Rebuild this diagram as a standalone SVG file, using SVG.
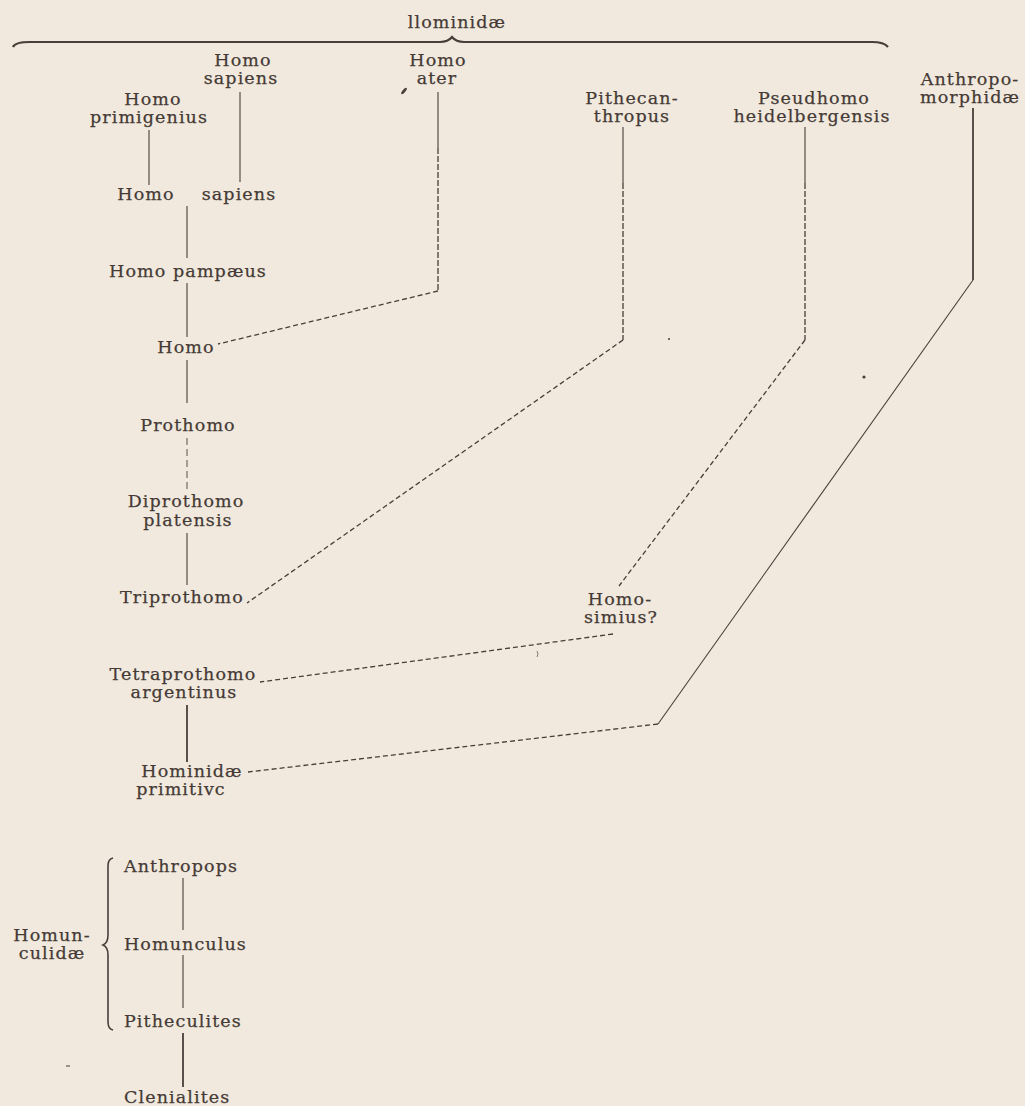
<svg xmlns="http://www.w3.org/2000/svg" width="1025" height="1106" viewBox="0 0 1025 1106">
<style>
text{font-family:"DejaVu Serif","Liberation Serif",serif;font-size:17.5px;fill:#453a36;stroke:#453a36;stroke-width:0.25;letter-spacing:1.1px}
.m{text-anchor:middle}
.s{fill:none;stroke:#4a3e3a;stroke-width:1.1}
.b{fill:none;stroke:#4a3e3a;stroke-width:1.8}
.d{fill:none;stroke:#4a3e3a;stroke-width:1.3;stroke-dasharray:5 3}
.dv{fill:none;stroke:#4a3e3a;stroke-width:1.3;stroke-dasharray:6 2}
.dd{fill:none;stroke:#4a3e3a;stroke-width:0.9;stroke-dasharray:7 4}
</style>
<rect width="1025" height="1106" fill="#f1e9dd"/>
<g id="hominidae-brace">
<text class="m" x="457" y="28">llominidæ</text>
<path d="M13,47 Q15,42 30,42 L440,42 Q448,42 452,37 Q456,42 464,42 L872,42 Q884,42 888,47" fill="none" stroke="#4a3e3a" stroke-width="2.2"/>
</g>
<g id="connectors">
<path class="s" d="M240,92 V182"/>
<path class="s" d="M149,130 V185"/>
<path class="s" d="M187,206 V258"/>
<path class="s" d="M187,283 V337"/>
<path class="s" d="M187,360 V403"/>
<path class="dd" d="M187,438 V490"/>
<path class="s" d="M187,533 V585"/>
<path class="b" d="M187,705 V762"/>
<path class="s" d="M438,92 V148"/>
<path class="dv" d="M438,148 V291"/>
<path class="d" d="M438,291 L218,344"/>
<path class="s" d="M623,127 V183"/>
<path class="dv" d="M623,183 V340"/>
<path class="d" d="M623,340 L247,603"/>
<path class="s" d="M805,127 V183"/>
<path class="dv" d="M805,183 V340"/>
<path class="d" d="M805,340 L619,586"/>
<path class="d" d="M613,634 L260,682"/>
<path class="b" d="M973,108 V280"/>
<path class="s" d="M973,280 L658,724"/>
<path class="d" d="M658,724 L248,772"/>
<path class="s" d="M183,878 V930"/>
<path class="s" d="M183,955 V1008"/>
<path class="b" d="M183,1033 V1087"/>
</g>
<g id="homo-sapiens-top"><text class="m" x="243" y="66">Homo</text><text class="m" x="241" y="84">sapiens</text></g>
<g id="homo-ater"><text class="m" x="438" y="66">Homo</text><text class="m" x="437" y="84">ater</text></g>
<g id="homo-primigenius"><text class="m" x="153" y="105">Homo</text><text class="m" x="149" y="123">primigenius</text></g>
<g id="pithecanthropus"><text class="m" x="632" y="104">Pithecan-</text><text class="m" x="632" y="122">thropus</text></g>
<g id="pseudhomo"><text class="m" x="814" y="104">Pseudhomo</text><text class="m" x="812" y="122">heidelbergensis</text></g>
<g id="anthropomorphidae"><text class="m" x="970" y="85">Anthropo-</text><text class="m" x="970" y="103">morphidæ</text></g>
<g id="homo-sapiens"><text class="m" x="146" y="200">Homo</text><text class="m" x="239" y="200">sapiens</text></g>
<g id="homo-pampaeus"><text class="m" x="188" y="277">Homo pampæus</text></g>
<g id="homo"><text class="m" x="186" y="353">Homo</text></g>
<g id="prothomo"><text class="m" x="188" y="431">Prothomo</text></g>
<g id="diprothomo"><text class="m" x="186" y="507">Diprothomo</text><text class="m" x="188" y="526">platensis</text></g>
<g id="triprothomo"><text class="m" x="182" y="603">Triprothomo</text></g>
<g id="homosimius"><text class="m" x="620" y="605">Homo-</text><text class="m" x="621" y="623">simius?</text></g>
<g id="tetraprothomo"><text class="m" x="183" y="680">Tetraprothomo</text><text class="m" x="184" y="698">argentinus</text></g>
<g id="hominidae-primitive"><text class="m" x="192" y="777">Hominidæ</text><text class="m" x="181" y="795">primitivc</text></g>
<g id="homunculidae">
<text class="m" x="52" y="941">Homun-</text><text class="m" x="52" y="959">culidæ</text>
<path d="M113,858 Q108,859 108,866 L108,935 Q108,943 103,945 Q108,947 108,955 L108,1022 Q108,1029 113,1030" fill="none" stroke="#4a3e3a" stroke-width="1.6"/>
</g>
<g id="anthropops"><text x="124" y="872">Anthropops</text></g>
<g id="homunculus"><text x="124" y="950">Homunculus</text></g>
<g id="pitheculites"><text x="124" y="1027">Pitheculites</text></g>
<g id="clenialites"><text x="124" y="1103">Clenialites</text></g>
<g id="marks" fill="#4a3e3a">
<ellipse cx="404" cy="91" rx="1.4" ry="4" transform="rotate(40 404 91)"/>
<circle cx="669" cy="339" r="1"/>
<circle cx="864" cy="377" r="1.6"/>
<path d="M537,651 q2,3 0,6" fill="none" stroke="#6a5e5a" stroke-width="0.8"/>
<path d="M66,1066 h4" stroke="#4a3e3a" stroke-width="1"/>
</g>
</svg>
